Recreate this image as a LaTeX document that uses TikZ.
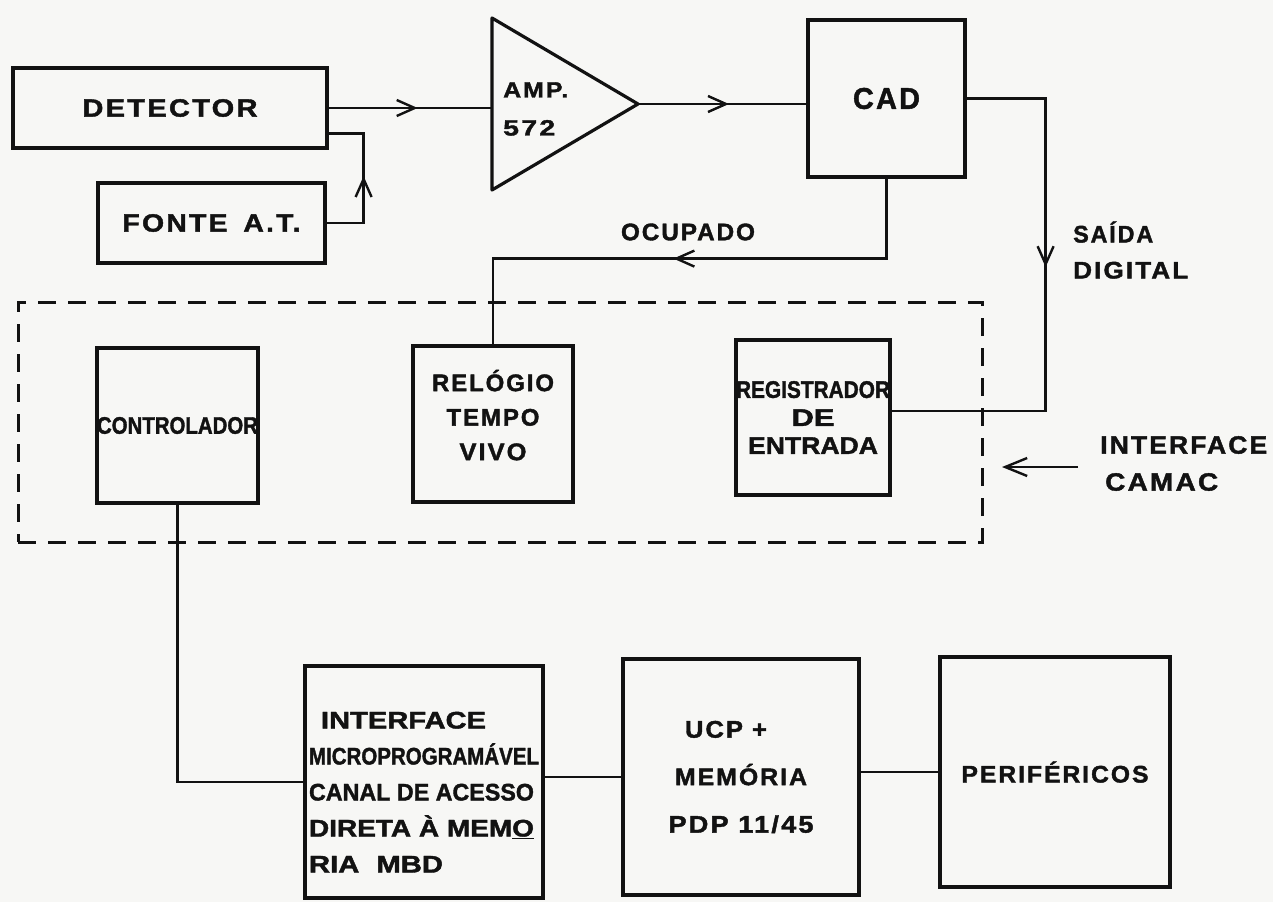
\documentclass[tikz,border=0pt]{standalone}
\usepackage{fontspec}
\setmainfont{Liberation Sans}
\newfontfamily\spc{Liberation Sans Bold}[LetterSpace=8,FakeBold=1.6]
\newfontfamily\tgt{Liberation Sans Bold}[FakeBold=1.6]
\usetikzlibrary{arrows.meta,decorations.markings,calc}
\newcommand{\fw}[2]{\resizebox{#1pt}{\height}{#2}}
\newcommand{\lf}[2]{\spc\fontsize{#1}{#2}\selectfont}
\newcommand{\lt}[2]{\tgt\fontsize{#1}{#2}\selectfont}
\definecolor{paper}{RGB}{247,247,245}
\definecolor{ink}{RGB}{18,18,18}
\begin{document}
\begin{tikzpicture}[x=1pt,y=-1pt,
  every node/.style={inner sep=0pt,text=ink},
  box/.style={draw=ink,line width=3.2pt,align=center},
  wire/.style={draw=ink,line width=2.4pt},
  barb/.style={-{Straight Barb[length=22pt,width=18pt,line width=2.4pt]}},
  arrowat/.style={decoration={markings,mark=at position #1 with {\arrow{Straight Barb[length=18pt,width=16pt,line width=2.4pt]}}},postaction={decorate}}]
\fill[paper] (0,0) rectangle (1273,902);
\useasboundingbox (0,0) rectangle (1273,902);

% top row
\node[box,minimum width=314pt,minimum height=80pt,font={\lf{25}{30}}] (det) at (170,108) {\fw{175}{DETECTOR}};
\node[box,minimum width=227pt,minimum height=80pt,font={\lf{25}{30}}] (fonte) at (211.5,223) {\fw{178}{FONTE\hspace{14pt}A.T.}};
\coordinate (ampTop) at (492,18);
\coordinate (ampBot) at (492,190);
\coordinate (ampOut) at (638,104);
\draw[draw=ink,line width=3.2pt,line join=round] (ampTop) -- (ampOut) -- (ampBot) -- cycle;
\node[anchor=west,align=left,font={\lf{22}{38}}] (amptxt) at (503,109) {\fw{65}{AMP.}\\\fw{52}{572}};
\node[box,minimum width=157pt,minimum height=157pt,font={\lf{30}{34}}] (cad) at (886.5,98.5) {\fw{67}{CAD}};
\node[font={\lf{24}{30}}] (ocup) at (688,232) {\fw{134}{OCUPADO}};
\node[anchor=west,align=left,font={\lf{24}{36}}] (saida) at (1073,250) {\fw{80}{SAÍDA}\\\fw{115}{DIGITAL}};

% CAMAC group
\node[draw=ink,line width=3pt,dash pattern=on 18pt off 12pt,minimum width=964pt,minimum height=240pt] (camacbox) at (500,422) {};
\node[box,minimum width=161pt,minimum height=155pt,font={\lt{24}{28}}] (ctrl) at (177.5,425.5) {\fw{161}{CONTROLADOR}};
\node[box,minimum width=160pt,minimum height=156pt,font={\lf{24}{34.5}}] (rel) at (493,424) {\fw{122}{RELÓGIO}\\\fw{93}{TEMPO}\\\fw{67}{VIVO}\rule[-18pt]{0pt}{18pt}};
\node[box,minimum width=154pt,minimum height=155pt,font={\lt{24}{28}}] (reg) at (813,417.5) {\fw{154}{REGISTRADOR}\\\fw{43}{DE}\\\fw{130}{ENTRADA}};
\node[anchor=west,align=left,font={\lf{25}{37}}] (camac) at (1100,463.5) {\fw{167}{INTERFACE}\\\hspace{5pt}\fw{113}{CAMAC}};
\coordinate (camacTail) at (1078,467);
\coordinate (camacTip) at (1002,467);

% bottom row
\node[box,minimum width=238pt,minimum height=232pt,align=left,font={\lt{24}{36}}] (mbd) at (424,782) {\rule{0pt}{37pt}\hspace{12pt}\fw{165}{INTERFACE}\\\fw{230}{MICROPROGRAMÁVEL}\\\fw{225}{CANAL DE ACESSO}\\\fw{225}{DIRETA À MEM\underline{O}}\\\fw{134}{RIA\hspace{14pt}MBD}};
\node[box,minimum width=236pt,minimum height=236pt,font={\lf{24}{47.5}}] (ucp) at (741,777) {\fw{82}{UCP +}\kern30pt\\\fw{132}{MEMÓRIA}\\\fw{145}{PDP 11/45}};
\node[box,minimum width=230pt,minimum height=230pt,font={\lf{24}{30}}] (per) at (1055,772) {\fw{187}{PERIFÉRICOS}};

% connectors
\draw[wire,arrowat=0.545] (det.east) -- (det.east -| ampTop);
\draw[wire,arrowat=0.52] (fonte.east) -- ++(37,0) |- ($(det.south east)+(0,-16)$);
\draw[wire,arrowat=0.54] (ampOut) -- (ampOut -| cad.west);
\draw[wire,arrowat=0.524] (cad.south) -- ++(0,80) -| (rel.north);
\draw[wire,arrowat=0.454] (cad.east) -- ++(79,0) |- ($(reg.east)+(0,-6.5)$);
\draw[wire,barb] (camacTail) -- (camacTip);
\draw[wire] (ctrl.south) |- (mbd.west);
\draw[wire] (mbd.east |- ucp.west) -- (ucp.west);
\draw[wire] (ucp.east |- per.west) -- (per.west);
\end{tikzpicture}
\end{document}
